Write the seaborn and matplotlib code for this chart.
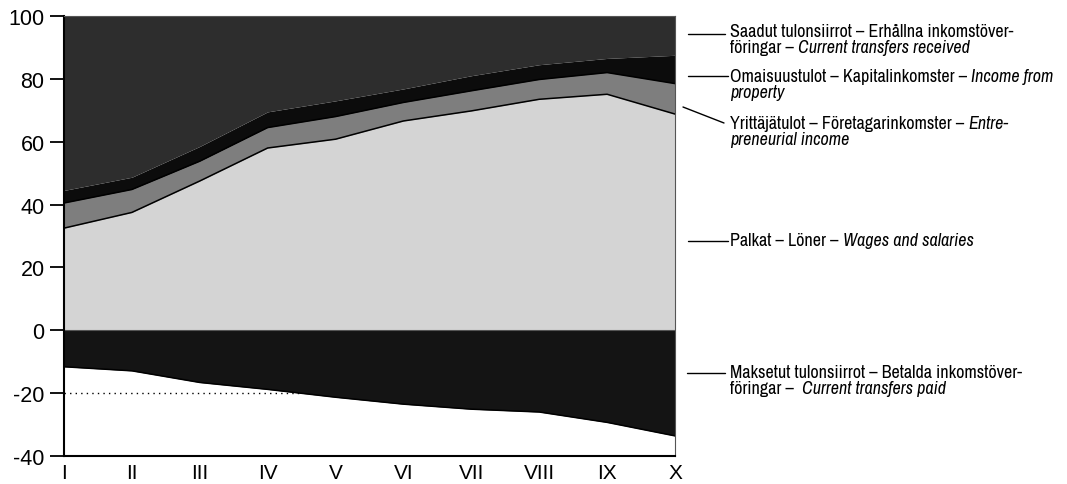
import numpy as np
import pandas as pd
import seaborn as sns
import matplotlib.pyplot as plt
from matplotlib import font_manager
from matplotlib.lines import Line2D

# Income deciles and shares of income components (%)
deciles = ['I', 'II', 'III', 'IV', 'V', 'VI', 'VII', 'VIII', 'IX', 'X']
wages = [32.5, 37.5, 47.5, 58.0, 60.8, 66.6, 69.8, 73.5, 75.1, 68.8]
entrepreneurial = [8.0, 7.3, 6.3, 6.5, 7.2, 5.9, 6.4, 6.3, 6.9, 9.7]
property_income = [4.0, 3.9, 4.7, 5.0, 5.0, 4.3, 4.8, 4.7, 4.5, 9.0]
transfers_received = [55.5, 51.3, 41.5, 30.5, 27.0, 23.2, 19.0, 15.5, 13.5, 12.5]
transfers_paid = [-11.6, -12.9, -16.6, -18.8, -21.3, -23.5, -25.1, -26.0, -29.3, -33.6]

labels = [
    [('Saadut tulonsiirrot – Erhållna inkomstöver-', 'normal'),
     None,
     ('föringar – ', 'normal'), ('Current transfers received', 'italic')],
    [('Omaisuustulot – Kapitalinkomster – ', 'normal'), ('Income from', 'italic'),
     None,
     ('property', 'italic')],
    [('Yrittäjätulot – Företagarinkomster – ', 'normal'), ('Entre-', 'italic'),
     None,
     ('preneurial income', 'italic')],
    [('Palkat – Löner – ', 'normal'), ('Wages and salaries', 'italic')],
    [('Maksetut tulonsiirrot – Betalda inkomstöver-', 'normal'),
     None,
     ('föringar –  ', 'normal'), ('Current transfers paid', 'italic')],
]

df = pd.DataFrame({
    'decile': deciles,
    'wages': wages,
    'entrepreneurial': entrepreneurial,
    'property': property_income,
    'received': transfers_received,
    'paid': transfers_paid,
})
df['pos'] = np.arange(len(df))
df['b1'] = df['wages']
df['b2'] = df['b1'] + df['entrepreneurial']
df['b3'] = df['b2'] + df['property']
df['b4'] = df['b3'] + df['received']

sns.set_theme(style='white')
plt.rcParams['font.family'] = ['Liberation Sans', 'DejaVu Sans']
plt.rcParams['axes.unicode_minus'] = False

# look for a condensed face for the labels, else plain Liberation Sans
label_font = {'family': 'Liberation Sans', 'stretch': 'normal', 'size': 10.5}
for f in font_manager.fontManager.ttflist:
    nm = f.name.lower()
    if 'narrow' in nm or 'condensed' in nm:
        label_font = {'family': f.name, 'stretch': 'normal', 'size': 13}
        break
    if str(f.stretch) in ('condensed', 'semi-condensed', '75', '87.5') or f.stretch in (75, 87.5):
        label_font = {'family': f.name, 'stretch': 'condensed', 'size': 13}

W, H = 1067, 485
fig = plt.figure(figsize=(W / 100, H / 100), dpi=100)
ax = fig.add_axes([64 / W, 1 - 457 / H, (675 - 64) / W, 440 / H])

x = df['pos']
ax.hlines(-20, 0, 3.5, colors='black', linestyles=(0, (1, 3)), lw=1, zorder=0)
ax.fill_between(x, 0, df['b1'], color='#d4d4d4', lw=0)
ax.fill_between(x, df['b1'], df['b2'], color='#7e7e7e', lw=0)
ax.fill_between(x, df['b2'], df['b3'], color='#0c0c0c', lw=0)
ax.fill_between(x, df['b3'], df['b4'], color='#2d2d2d', lw=0)
ax.fill_between(x, df['paid'], 0, color='#141414', lw=0)

for col in ['b1', 'b2', 'paid']:
    sns.lineplot(data=df, x='pos', y=col, color='black', lw=1.1, ax=ax)
ax.axhline(0, color='#555555', lw=0.8)

ax.set_xlim(0, 9)
ax.set_ylim(-40, 100)
ax.set_yticks(range(-40, 101, 20))
ax.set_xticks(x)
ax.set_xticklabels(deciles)
ax.set_xlabel('')
ax.set_ylabel('')
ax.tick_params(axis='y', which='major', left=True, direction='out', length=10, width=1.3,
               pad=4, labelsize=15.5, colors='black')
ax.tick_params(axis='x', length=0, pad=5, labelsize=15, colors='black')
for s in ['left', 'bottom']:
    ax.spines[s].set_linewidth(1.5)
    ax.spines[s].set_color('black')
for s in ['top', 'right']:
    ax.spines[s].set_linewidth(0.8)
    ax.spines[s].set_color('#555555')

# Leader lines to the labels (pixel coordinates)
leaders = [((688, 35), (725, 35)), ((688, 77), (728, 77)), ((683, 108), (724, 124)),
           ((688, 241.5), (728, 241.5)), ((687, 373.5), (725, 373.5))]
for (x0, y0), (x1, y1) in leaders:
    fig.add_artist(Line2D([x0 / W, x1 / W], [1 - y0 / H, 1 - y1 / H],
                          transform=fig.transFigure, color='black', lw=1))

baselines = [37, 82, 129, 246, 378]
renderer = fig.canvas.get_renderer()
for segs, base in zip(labels, baselines):
    tx, ty = 730, base
    for seg in segs:
        if seg is None:
            tx, ty = 730, ty + 16.5
            continue
        s, style = seg
        t = fig.text(tx / W, 1 - ty / H, s, fontsize=label_font['size'],
                     family=label_font['family'], stretch=label_font['stretch'],
                     style=style, va='baseline', ha='left', color='black')
        tx += t.get_window_extent(renderer).width

fig.savefig('out.png', dpi=100)
